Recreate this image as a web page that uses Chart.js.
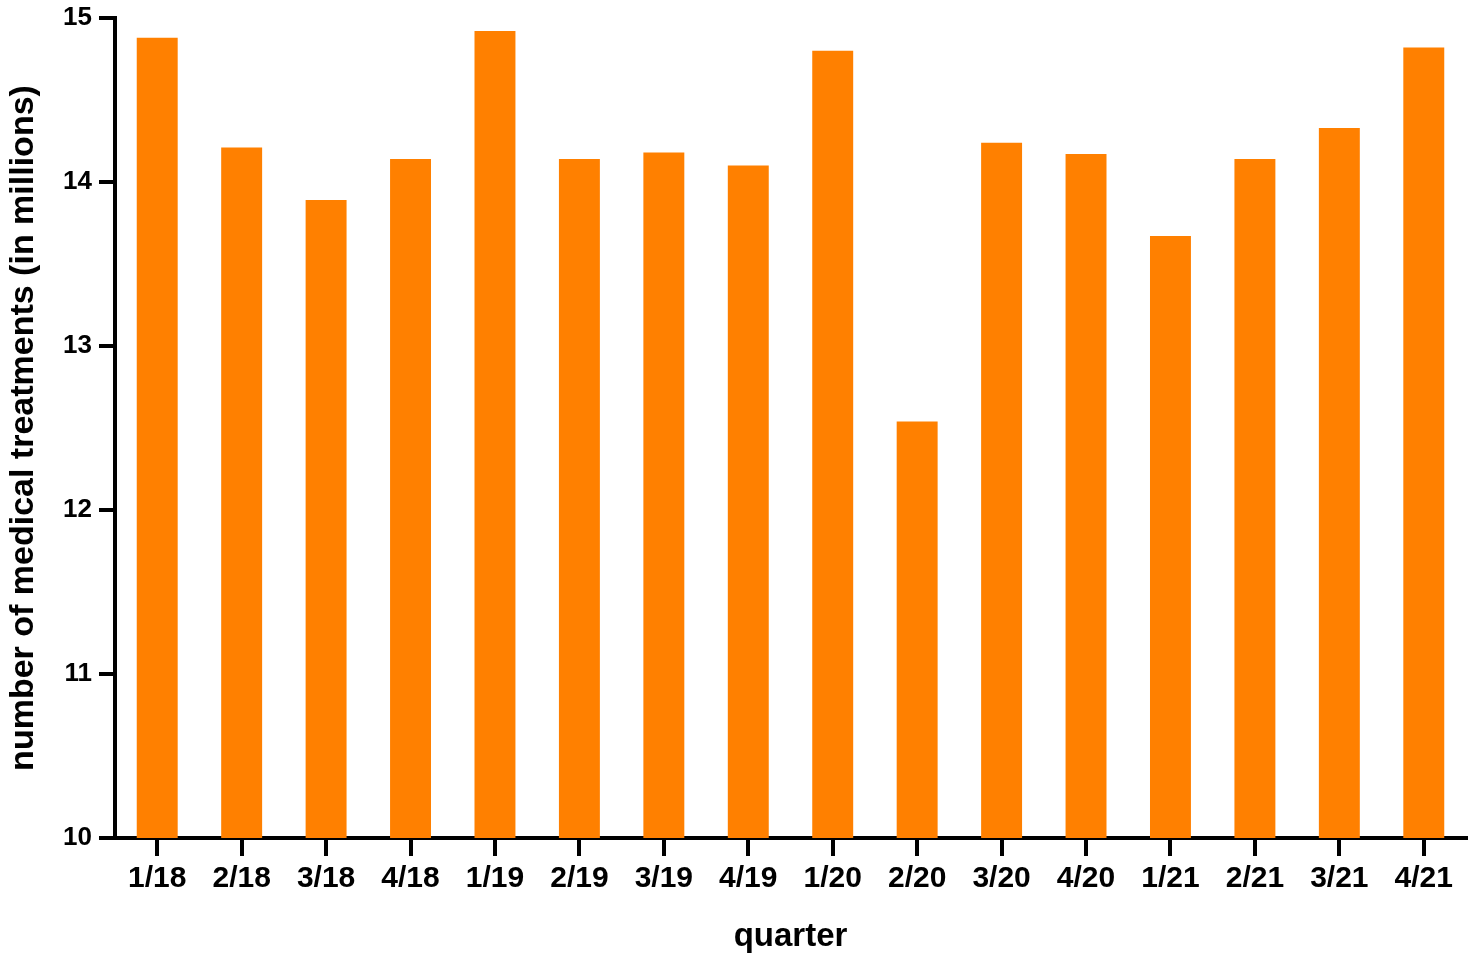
<!DOCTYPE html>
<html>
<head>
<meta charset="utf-8">
<script src="https://cdn.jsdelivr.net/npm/chart.js@4/dist/chart.umd.min.js"></script>
<style>
  html, body { margin: 0; padding: 0; background: #fff; }
  canvas { display: block; }
</style>
</head>
<body>
<canvas id="c" width="1477" height="960"></canvas>
<script>
// quarters and treatments (millions)
const quarters = ['1/18', '2/18', '3/18', '4/18', '1/19', '2/19', '3/19', '4/19',
                  '1/20', '2/20', '3/20', '4/20', '1/21', '2/21', '3/21', '4/21']
const treatments = [14.88, 14.21, 13.89, 14.14, 14.92, 14.14, 14.18, 14.10,
                    14.80, 12.54, 14.24, 14.17, 13.67, 14.14, 14.33, 14.82]
const yTicks = [10, 11, 12, 13, 14, 15]

const family = '"Liberation Sans", Arial, sans-serif'

const ctx = document.getElementById('c').getContext('2d')
new Chart(ctx, {
    type: 'bar',
    data: {
        labels: quarters,
        datasets: [{
            data: treatments,
            backgroundColor: '#FF8000',
            borderWidth: 0,
            barPercentage: 0.485,
            categoryPercentage: 1
        }]
    },
    options: {
        responsive: false,
        animation: false,
        devicePixelRatio: 1,
        layout: { padding: { top: 18, right: 11, bottom: 0, left: 0 } },
        plugins: { legend: { display: false }, tooltip: { enabled: false } },
        scales: {
            x: {
                grid: { display: true, drawOnChartArea: false, offset: false, tickLength: 18, lineWidth: 4, color: '#000' },
                border: { display: true, width: 4, color: '#000' },
                ticks: { font: { family: family, weight: 'bold', size: 30 }, color: '#000', padding: 5, maxRotation: 0, autoSkip: false },
                title: { display: true, text: 'quarter', font: { family: family, weight: 'bold', size: 33 }, color: '#000', padding: { top: 0, bottom: 3 } },
                afterFit: (s) => { s.height = 122; s.paddingLeft = 0; s.paddingRight = 0 }
            },
            y: {
                min: 10,
                max: 15,
                afterBuildTicks: (s) => { s.ticks = yTicks.map(v => ({ value: v })) },
                grid: { display: true, drawOnChartArea: false, tickLength: 16, lineWidth: 4, color: '#000' },
                border: { display: true, width: 4, color: '#000' },
                ticks: { font: { family: family, weight: 'bold', size: 26 }, color: '#000', padding: 7 },
                title: { display: true, text: 'number of medical treatments (in millions)', font: { family: family, weight: 'bold', size: 34 }, color: '#000', padding: { top: 3, bottom: 0 } },
                afterFit: (s) => { s.width = 115; s.paddingTop = 0; s.paddingBottom = 0 }
            }
        }
    }
})
</script>
</body>
</html>
